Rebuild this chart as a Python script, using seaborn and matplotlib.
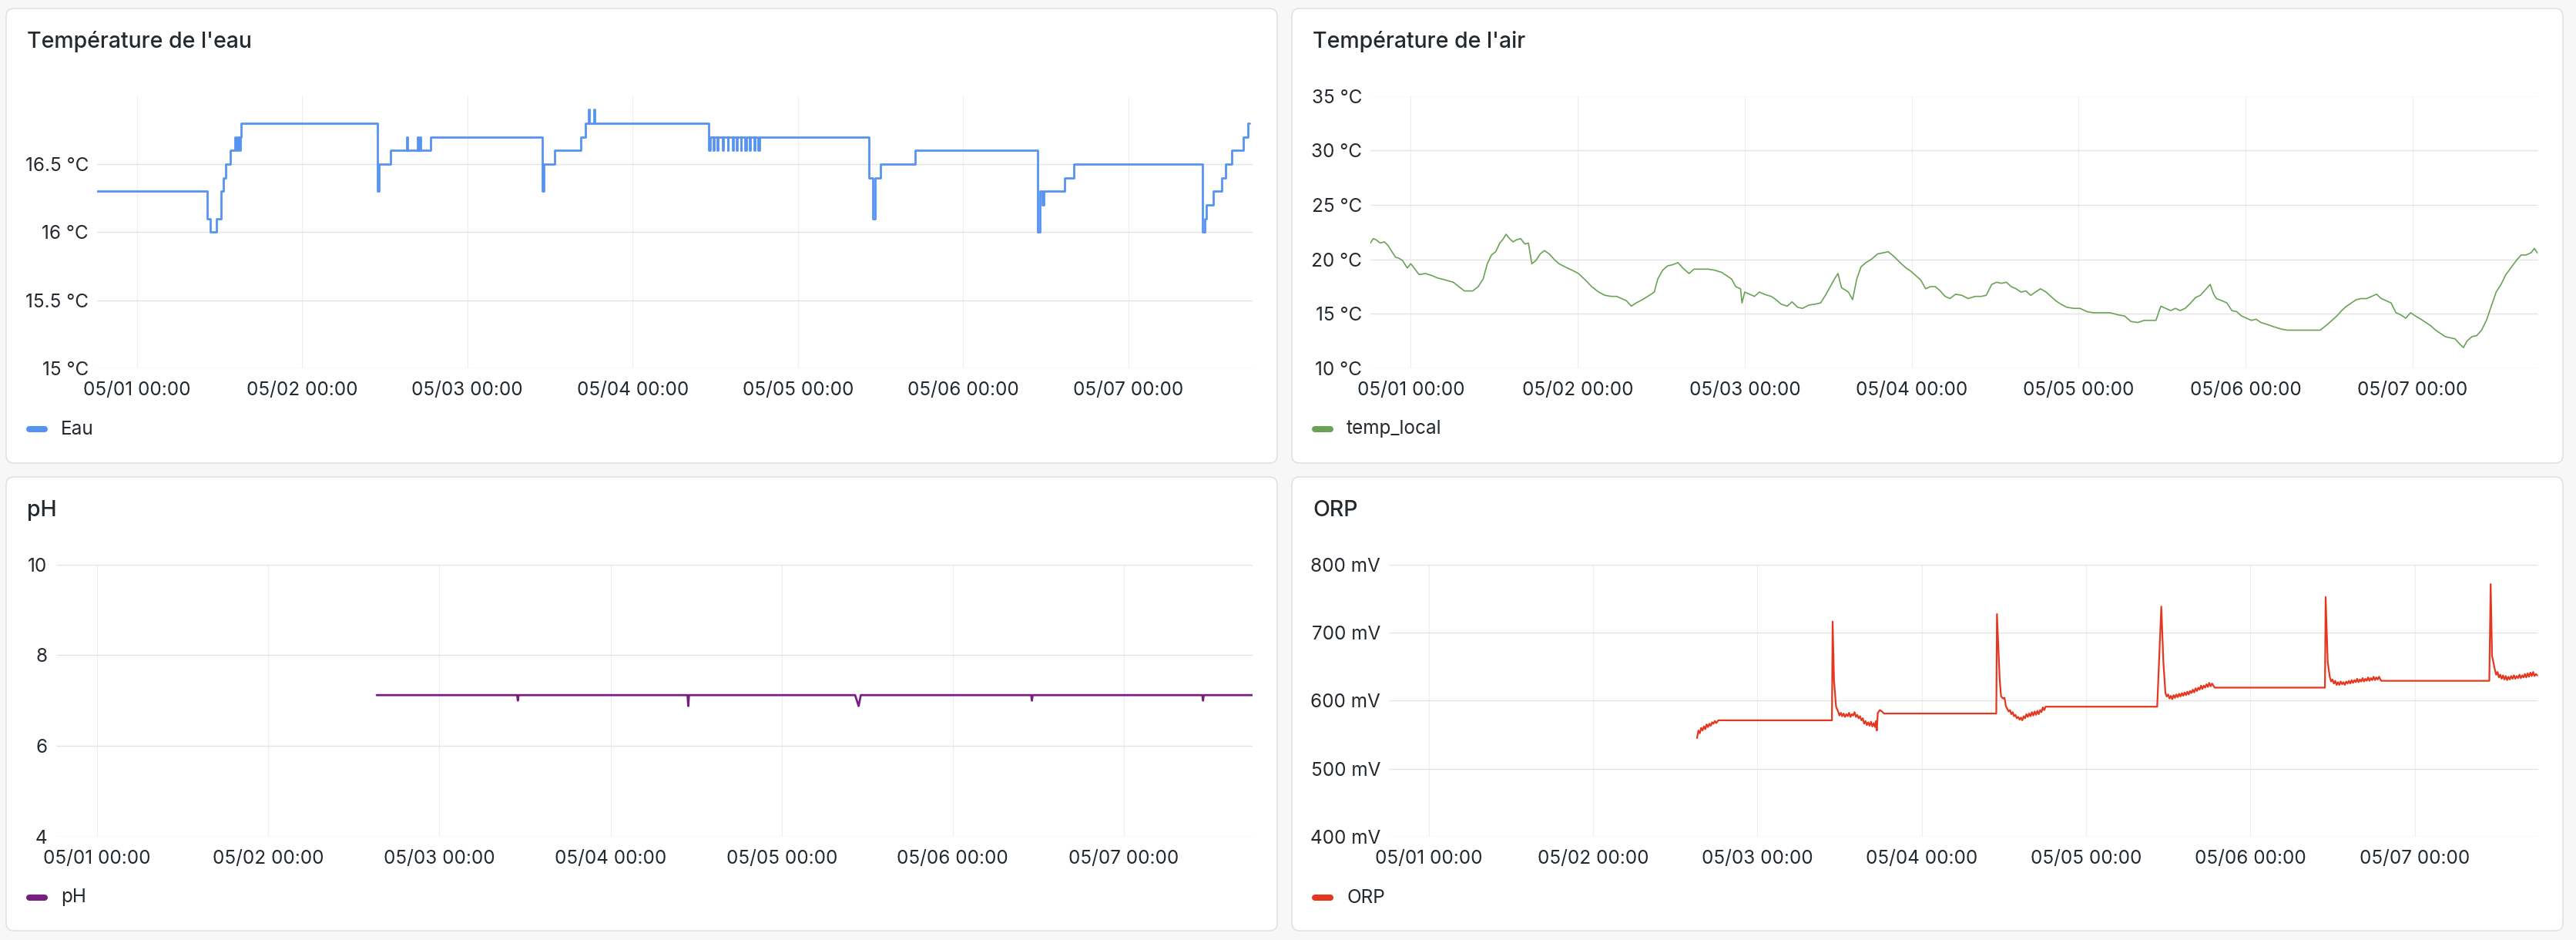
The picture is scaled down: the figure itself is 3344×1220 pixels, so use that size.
import pandas as pd
import matplotlib.pyplot as plt
import matplotlib.dates as mdates
import seaborn as sns
from matplotlib.lines import Line2D
from matplotlib.patches import FancyBboxPatch
from matplotlib.ticker import FuncFormatter
from matplotlib.transforms import IdentityTransform

# Hours since 05/01 00:00 and readings for each sensor
EAU_H = [-5.8, 10.25, 10.6, 11.6, 12.2, 12.6, 12.9, 13.6, 14.2, 14.4, 14.7, 14.9, 15.0, 15.1,
         34.9, 35.2, 36.8, 39.2, 39.3, 40.8, 40.9, 41.1, 41.2, 42.7,
         58.9, 59.1, 60.7, 64.5, 65.1, 65.6, 65.7, 66.4, 66.5,
         83.1, 83.3, 83.7, 83.8, 84.3, 84.4, 85.1, 85.2, 85.8, 85.9, 86.5, 86.6,
         87.1, 87.2, 87.7, 87.8, 88.3, 88.5, 89.0, 89.1, 89.6, 89.8, 90.2, 90.4,
         106.3, 106.9, 107.2, 108.0, 113.0,
         130.8, 131.2, 131.5, 131.7, 134.7, 136.1,
         154.8, 155.1, 155.3, 156.3, 157.6, 158.1, 159.0, 160.7, 161.4, 161.6]
EAU_V = [16.3, 16.1, 16.0, 16.1, 16.3, 16.4, 16.5, 16.6, 16.7, 16.6, 16.7, 16.6, 16.7, 16.8,
         16.3, 16.5, 16.6, 16.7, 16.6, 16.7, 16.6, 16.7, 16.6, 16.7,
         16.3, 16.5, 16.6, 16.7, 16.8, 16.9, 16.8, 16.9, 16.8,
         16.6, 16.7, 16.6, 16.7, 16.6, 16.7, 16.6, 16.7, 16.6, 16.7, 16.6, 16.7,
         16.6, 16.7, 16.6, 16.7, 16.6, 16.7, 16.6, 16.7, 16.6, 16.7, 16.6, 16.7,
         16.4, 16.1, 16.4, 16.5, 16.6,
         16.0, 16.3, 16.2, 16.3, 16.4, 16.5,
         16.0, 16.1, 16.2, 16.3, 16.4, 16.5, 16.6, 16.7, 16.8, 16.8]

AIR_H = [-5.9, -5.4, -5.0, -4.4, -3.8, -3.3, -2.7, -2.2, -1.7, -1.2,
         -0.5, 0.0, 0.6, 1.2, 2.1, 3.1, 3.8, 5.0, 6.1, 6.9,
         7.7, 8.9, 9.7, 10.4, 11.0, 11.6, 12.2, 12.8, 13.2, 13.7,
         14.2, 14.7, 15.2, 15.8, 16.4, 16.9, 17.4, 18.0, 18.6, 19.2,
         19.9, 20.6, 21.3, 22.2, 23.2, 24.1, 25.1, 26.0, 27.0, 27.9,
         28.8, 29.6, 30.3, 31.0, 31.7, 32.4, 33.3, 34.3, 35.0, 35.5,
         36.2, 36.9, 37.6, 38.4, 39.1, 40.0, 40.7, 41.6, 42.8, 43.7,
         44.7, 45.4, 46.1, 46.7, 47.4, 47.6, 48.0, 48.7, 49.4, 50.1,
         50.8, 51.8, 52.5, 53.2, 54.1, 54.8, 55.6, 56.3, 57.2, 58.2,
         58.9, 59.6, 60.3, 60.9, 61.4, 61.9, 62.4, 62.9, 63.5, 64.1,
         64.7, 65.4, 66.2, 67.1, 67.9, 68.6, 69.2, 69.7, 70.5, 71.2,
         71.9, 72.6, 73.3, 74.0, 74.7, 75.4, 76.1, 76.8, 77.5, 78.3,
         79.2, 80.1, 81.1, 82.0, 82.7, 83.5, 84.2, 84.9, 85.6, 86.3,
         87.0, 87.7, 88.4, 89.1, 89.8, 90.5, 91.3, 92.0, 92.7, 93.4,
         94.3, 95.3, 96.2, 97.2, 98.1, 99.3, 100.5, 101.7, 102.6, 103.5,
         104.5, 105.4, 106.4, 107.1, 107.8, 108.5, 109.2, 109.9, 110.6, 111.3,
         112.1, 112.8, 113.5, 114.2, 114.9, 115.4, 115.8, 116.6, 117.3, 118.0,
         118.7, 119.4, 120.1, 120.8, 121.5, 122.2, 123.2, 124.1, 125.1, 126.0,
         127.2, 128.4, 129.6, 130.7, 131.7, 132.4, 133.1, 133.8, 134.5, 135.2,
         135.9, 136.6, 137.4, 138.1, 138.8, 139.5, 140.2, 140.9, 141.6, 142.3,
         143.0, 143.7, 144.4, 145.2, 145.9, 146.6, 147.3, 148.0, 148.7, 149.4,
         150.1, 150.8, 151.3, 151.8, 152.5, 153.2, 153.9, 154.6, 155.3, 156.0,
         156.7, 157.4, 158.2, 158.9, 159.6, 160.3, 161.0, 161.5, 161.9]
AIR_V = [21.4, 21.9, 21.8, 21.5, 21.6, 21.3, 20.7, 20.2, 20.1, 19.9,
         19.2, 19.6, 19.1, 18.6, 18.7, 18.5, 18.3, 18.1, 17.9, 17.5,
         17.1, 17.1, 17.5, 18.2, 19.6, 20.4, 20.7, 21.5, 21.8, 22.3,
         21.9, 21.6, 21.8, 21.9, 21.4, 21.5, 19.6, 19.9, 20.5, 20.8,
         20.5, 20.0, 19.6, 19.3, 19.0, 18.7, 18.1, 17.5, 17.0, 16.7,
         16.6, 16.6, 16.4, 16.2, 15.7, 16.0, 16.3, 16.7, 17.0, 18.2,
         19.0, 19.4, 19.5, 19.7, 19.2, 18.7, 19.1, 19.1, 19.1, 19.0,
         18.8, 18.5, 18.2, 17.5, 17.3, 16.0, 17.0, 16.8, 16.6, 17.0,
         16.8, 16.6, 16.3, 15.9, 15.7, 16.1, 15.6, 15.5, 15.8, 15.9,
         16.0, 16.7, 17.5, 18.2, 18.7, 17.4, 17.2, 17.0, 16.3, 18.2,
         19.3, 19.7, 20.0, 20.5, 20.6, 20.7, 20.4, 20.1, 19.6, 19.2,
         18.9, 18.5, 18.1, 17.3, 17.5, 17.5, 17.1, 16.6, 16.4, 16.8,
         16.7, 16.4, 16.6, 16.6, 16.7, 17.7, 17.9, 17.8, 17.9, 17.5,
         17.3, 17.0, 17.1, 16.7, 17.0, 17.3, 17.0, 16.6, 16.2, 15.9,
         15.6, 15.5, 15.5, 15.2, 15.1, 15.1, 15.1, 14.9, 14.8, 14.3,
         14.2, 14.4, 14.4, 14.4, 15.7, 15.5, 15.3, 15.5, 15.3, 15.5,
         16.0, 16.5, 16.7, 17.2, 17.7, 16.8, 16.4, 16.2, 16.0, 15.3,
         15.2, 14.8, 14.6, 14.4, 14.5, 14.2, 14.0, 13.8, 13.6, 13.5,
         13.5, 13.5, 13.5, 13.5, 14.0, 14.4, 14.8, 15.3, 15.7, 16.0,
         16.3, 16.4, 16.4, 16.6, 16.8, 16.4, 16.2, 16.0, 15.1, 14.9,
         14.6, 15.1, 14.8, 14.5, 14.2, 13.9, 13.5, 13.2, 12.9, 12.8,
         12.7, 12.2, 11.9, 12.5, 12.9, 13.0, 13.5, 14.4, 15.7, 17.0,
         17.7, 18.6, 19.3, 19.9, 20.4, 20.4, 20.6, 21.0, 20.6]

PH_H = [39.2, 58.9, 59.0, 59.1, 82.8, 82.9, 83.0, 106.3, 106.8, 107.1,
        131.0, 131.1, 131.2, 155.0, 155.1, 155.2, 162.0]
PH_V = [7.12, 7.12, 7.0, 7.12, 7.12, 6.88, 7.12, 7.12, 6.88, 7.12,
        7.12, 7.0, 7.12, 7.12, 7.0, 7.12, 7.12]

ORP_H = [39.2, 39.4, 39.6, 39.8, 40.0, 40.2, 40.4, 40.6, 40.8, 41.0, 41.2, 41.4, 41.6, 41.8,
         42.0, 42.3, 42.8, 58.9,
         59.0, 59.2, 59.5, 59.8, 60.0, 60.2, 60.4, 60.6, 60.8, 61.0, 61.2, 61.4, 61.6, 61.8,
         62.0, 62.2, 62.4, 62.6, 62.8, 63.0, 63.2, 63.4, 63.6, 63.8, 64.0, 64.2, 64.4, 64.6,
         64.8, 65.0, 65.2, 65.35, 65.45, 65.6, 65.9, 66.2, 66.5, 82.9,
         83.0, 83.4, 83.6, 83.9, 84.1, 84.3, 84.5, 84.7, 84.9, 85.1, 85.3, 85.5, 85.7, 85.9,
         86.1, 86.3, 86.5, 86.7, 86.9, 87.1, 87.3, 87.5, 87.7, 87.9, 88.1, 88.3, 88.5, 88.7,
         88.9, 89.1, 89.3, 89.5, 89.7, 89.9, 90.1, 90.6, 106.4,
         107.0, 107.3, 107.6, 107.8, 108.0, 108.2, 108.4, 108.6, 108.8, 109.0, 109.2, 109.4,
         109.6, 109.8, 110.0, 110.2, 110.4, 110.6, 110.8, 111.0, 111.2, 111.4, 111.6, 111.8,
         112.0, 112.2, 112.4, 112.6, 112.8, 113.0, 113.2, 113.4, 113.6, 113.8, 114.0, 114.2,
         114.4, 114.8, 130.9,
         131.0, 131.3, 131.6, 131.8, 132.0, 132.2, 132.4, 132.6, 132.8, 133.0, 133.2, 133.4,
         133.6, 133.8, 134.0, 134.2, 134.4, 134.6, 134.8, 135.0, 135.2, 135.4, 135.6, 135.8,
         136.0, 136.2, 136.4, 136.6, 136.8, 137.0, 137.2, 137.4, 137.6, 137.8, 138.0, 138.2,
         138.4, 138.6, 138.8, 139.1, 154.9,
         155.1, 155.3, 155.7, 155.9, 156.1, 156.3, 156.5, 156.7, 156.9, 157.1, 157.3, 157.5,
         157.7, 157.9, 158.1, 158.3, 158.5, 158.7, 158.9, 159.1, 159.3, 159.5, 159.7, 159.9,
         160.1, 160.3, 160.5, 160.7, 160.9, 161.1, 161.3, 161.5, 161.7, 161.9]
ORP_V = [545, 556, 552, 560, 556, 562, 558, 565, 561, 566, 563, 568, 566, 570,
         567, 571, 571, 571,
         716, 630, 591, 584, 578, 582, 577, 581, 576, 580, 577, 582, 576, 580,
         578, 583, 576, 579, 574, 577, 571, 574, 566, 570, 564, 568, 563, 569,
         562, 567, 561, 570, 556, 582, 586, 584, 581, 581,
         727, 631, 606, 603, 604, 592, 588, 584, 586, 580, 583, 577, 579, 574,
         576, 572, 575, 571, 577, 574, 580, 576, 581, 577, 583, 578, 584, 579,
         585, 580, 586, 583, 590, 586, 591, 591, 591,
         738, 657, 611, 606, 609, 603, 607, 602, 608, 604, 609, 605,
         610, 606, 611, 607, 612, 608, 613, 609, 614, 611, 616, 612,
         618, 614, 619, 616, 622, 617, 622, 619, 624, 620, 626, 621,
         625, 619, 619,
         752, 657, 635, 628, 631, 625, 629, 623, 627, 623, 628, 624,
         627, 623, 628, 625, 629, 625, 630, 626, 630, 627, 632, 627,
         631, 628, 633, 628, 632, 629, 634, 629, 633, 630, 635, 630,
         634, 631, 635, 629, 629,
         771, 666, 646, 638, 642, 634, 638, 632, 637, 631, 636, 630,
         635, 631, 636, 632, 637, 632, 636, 633, 638, 633, 637, 634,
         639, 634, 640, 635, 641, 636, 642, 636, 639, 637]

T0 = pd.Timestamp("2025-05-01 00:00")
X_START = pd.Timestamp("2025-04-30 18:12")
X_END = pd.Timestamp("2025-05-07 18:03")

TEXT = "#24292e"
W, H = 3344, 1220

sns.set_theme(style="white")
plt.rcParams["font.family"] = ["Inter", "DejaVu Sans"]

fig = plt.figure(figsize=(W / 100, H / 100), dpi=100, facecolor="#f7f7f8")


def fx(px):
    return px / W


def fy(py):
    return 1 - py / H


panels = [
    # title, hours, values, color, lw, panel box, axes box, ylim, yticks, unit, steps, legend
    ("Température de l'eau", EAU_H, EAU_V, "#5794f2", 2.0, (8, 11, 1658, 601),
     (126, 124.5, 1626, 478), (15, 17), [15, 15.5, 16, 16.5], " °C", True, "Eau"),
    ("Température de l'air", AIR_H, AIR_V, "#6aa256", 1.2, (1677, 11, 3327, 601),
     (1779, 124.5, 3295, 478), (10, 35), [10, 15, 20, 25, 30, 35], " °C", False, "temp_local"),
    ("pH", PH_H, PH_V, "#7a1f82", 2.0, (8, 619, 1658, 1208),
     (72.5, 732.5, 1626, 1086), (4, 10), [4, 6, 8, 10], "", False, "pH"),
    ("ORP", ORP_H, ORP_V, "#e5371f", 1.6, (1677, 619, 3327, 1208),
     (1803, 732.5, 3295, 1086), (400, 800), [400, 500, 600, 700, 800], " mV", False, "ORP"),
]

for title, hours, vals, color, lw, pbox, abox, ylim, yticks, unit, steps, label in panels:
    # panel card behind everything
    px0, py0, px1, py1 = pbox
    card = FancyBboxPatch((px0, H - py1), px1 - px0, py1 - py0,
                          boxstyle="round,pad=0,rounding_size=10",
                          facecolor="white", edgecolor="#e2e2e4", linewidth=1.2,
                          zorder=-10)
    fig.add_artist(card)
    card.set_transform(IdentityTransform())

    fig.text(fx(px0 + 27), fy(py0 + 51), title, fontsize=20.5, fontweight="medium",
             color=TEXT, ha="left", va="baseline")

    ax0, ay0, ax1, ay1 = abox
    ax = fig.add_axes([fx(ax0), fy(ay1), fx(ax1 - ax0), (ay1 - ay0) / H])
    ax.set_facecolor("none")

    df = pd.DataFrame({"time": T0 + pd.to_timedelta(hours, unit="h"), "value": vals})
    kw = {"drawstyle": "steps-post"} if steps else {}
    sns.lineplot(data=df, x="time", y="value", ax=ax, color=color, linewidth=lw,
                 estimator=None, sort=False, legend=False, **kw)

    ax.set_xlim(X_START, X_END)
    ax.set_ylim(*ylim)
    ax.set_yticks(yticks)
    ax.yaxis.set_major_formatter(FuncFormatter(lambda v, p, u=unit: f"{v:g}{u}"))
    ax.xaxis.set_major_locator(mdates.DayLocator())
    ax.xaxis.set_major_formatter(mdates.DateFormatter("%m/%d %H:%M"))
    ax.set_xlabel("")
    ax.set_ylabel("")
    ax.grid(True, axis="y", color="#e4e4e4", linewidth=1.0)
    ax.grid(True, axis="x", color="#ededed", linewidth=0.8)
    ax.set_axisbelow(True)
    for s in ax.spines.values():
        s.set_visible(False)
    ax.tick_params(axis="x", length=6.5, width=0.8, color="#ededed", pad=6,
                   labelsize=17.5, labelcolor=TEXT)
    ax.tick_params(axis="y", length=0, pad=8, labelsize=17.5, labelcolor=TEXT)

    # legend
    ly = py0 + 546
    fig.add_artist(Line2D([fx(px0 + 30), fx(px0 + 50)], [fy(ly), fy(ly)],
                          color=color, linewidth=5.8, solid_capstyle="round"))
    fig.text(fx(px0 + 71), fy(ly), label, fontsize=17.5, color=TEXT,
             ha="left", va="center")

fig.savefig("out.png", dpi=100, facecolor=fig.get_facecolor())
